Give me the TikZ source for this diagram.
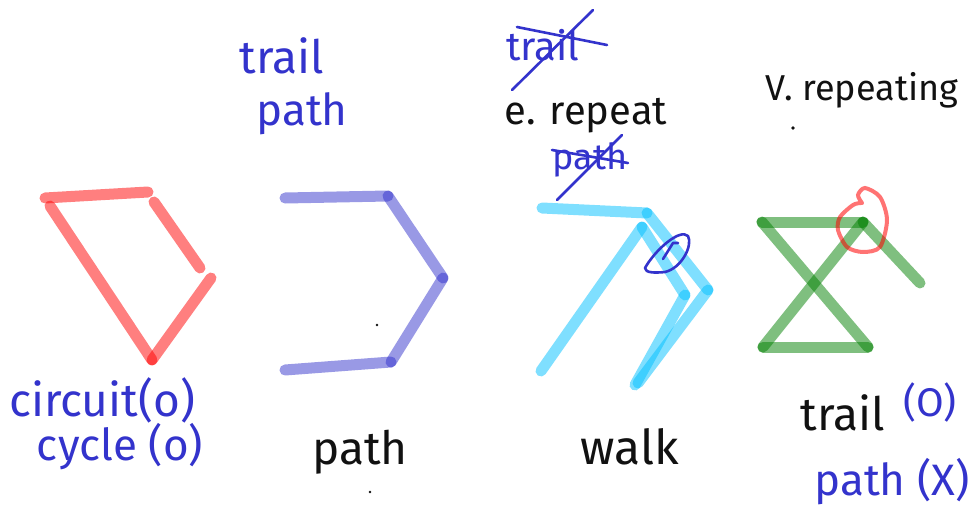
\documentclass[tikz,border=0pt]{standalone}
\usepackage{fontspec}
\setmainfont{Fira Sans}
\definecolor{ink}{HTML}{3333CC}
\definecolor{pen}{HTML}{111111}
\definecolor{hlred}{HTML}{FF0000}
\definecolor{hlblue}{HTML}{3333CC}
\definecolor{hlcyan}{HTML}{00BFFF}
\definecolor{hlgreen}{HTML}{008000}
\tikzset{
  marker/.style={line width=11pt, line cap=round, draw opacity=0.5},
  word/.style={inner sep=0pt, anchor=center},
  strike/.style={ink, line width=2.6pt, line cap=round},
}
\newcommand{\fs}[1]{\fontsize{#1}{#1}\selectfont}
\begin{document}
\begin{tikzpicture}[x=1pt,y=-1pt]
\useasboundingbox (0,0) rectangle (980,519);

% ---- circuit / cycle (red) ----
\coordinate (r1) at (45,198);  \coordinate (r2) at (148,192);
\coordinate (r3) at (50,206);  \coordinate (r4) at (152,360);
\coordinate (r5) at (154,202); \coordinate (r6) at (200,268);
\coordinate (r7) at (211,278);
\foreach \a/\b in {r1/r2, r3/r4, r5/r6, r7/r4}
  \draw[marker, hlred] (\a) -- (\b);

% ---- path (blue) ----
\coordinate (b1) at (285,198); \coordinate (b2) at (388,196);
\coordinate (b3) at (443,278); \coordinate (b4) at (391,362);
\coordinate (b5) at (285,370);
\foreach \a/\b in {b1/b2, b2/b3, b3/b4, b4/b5}
  \draw[marker, hlblue] (\a) -- (\b);
\fill[pen] (377,325) circle (1.4);

% ---- walk (cyan) ----
\coordinate (c1) at (542,208); \coordinate (c2) at (647,213);
\coordinate (c3) at (708,290); \coordinate (c4) at (638,383);
\coordinate (c5) at (642,227); \coordinate (c6) at (541,371);
\coordinate (c7) at (685,295); \coordinate (c8) at (635,385);
\foreach \a/\b in {c1/c2, c2/c3, c3/c4, c5/c6, c5/c7, c7/c8}
  \draw[marker, hlcyan] (\a) -- (\b);
% loop marking the repeated edge
\draw[ink, line width=2.6pt, line cap=round, line join=round]
  (645,268) .. controls (655,250) and (680,228) .. (688,236)
  .. controls (693,245) and (682,268) .. (665,272)
  .. controls (655,273) and (645,273) .. (645,268);
\draw[ink, line width=2.6pt, line cap=round, line join=round]
  (663,259) -- (673,243) -- (678,243);

% ---- trail (green) ----
\coordinate (g1) at (762,222); \coordinate (g2) at (863,222);
\coordinate (g3) at (868,347); \coordinate (g4) at (763,347);
\coordinate (g5) at (920,283);
\foreach \a/\b in {g1/g2, g1/g3, g4/g3, g4/g2, g2/g5}
  \draw[marker, hlgreen] (\a) -- (\b);
% circled repeated vertex
\draw[hlred, draw opacity=0.55, line width=4pt, line cap=round]
  plot[smooth] coordinates {(862,203) (858,195) (865,188) (880,197)
    (887,220) (880,247) (863,252) (847,247) (838,230) (840,217)
    (853,205) (861,203)};

% ---- labels ----
\node[word, ink] (lt1) at (282,56) {\fs{46}trail};
\node[word, ink] (lt2) at (302,114) {\fs{44}path};

\node[word, ink] (xs1) at (543,45) {\fs{40}trail};
\draw[strike] (517,27) -- (607,45);
\draw[strike] (512,90) -- (593,10);

\node[word, pen] (er) at (586,116) {\fs{40}e. repeat};

\node[word, ink] (xs2) at (590,160) {\fs{36}path};
\draw[strike] (552,150) -- (628,163);
\draw[strike] (557,200) -- (622,135);

\node[word, pen] (vr) at (862,90) {\fs{36}V. repeating};
\fill[pen] (793,128) circle (1.8);

\node[word, ink] (cc) at (102,400) {\fs{46}circuit(o)};
\node[word, ink] (cy) at (120,447) {\fs{44}cycle (o)};

\node[word, pen] (pa) at (360,452) {\fs{46}path};
\fill[pen] (370,492) circle (1.4);

\node[word, pen] (wk) at (630,447) {\fs{48}walk};

\node[word, pen] (tr) at (843,413) {\fs{46}trail};
\node[word, ink] (ok) at (930,402) {\fs{40}(O)};
\node[word, ink] (px) at (892,482) {\fs{44}path (X)};
\end{tikzpicture}
\end{document}
